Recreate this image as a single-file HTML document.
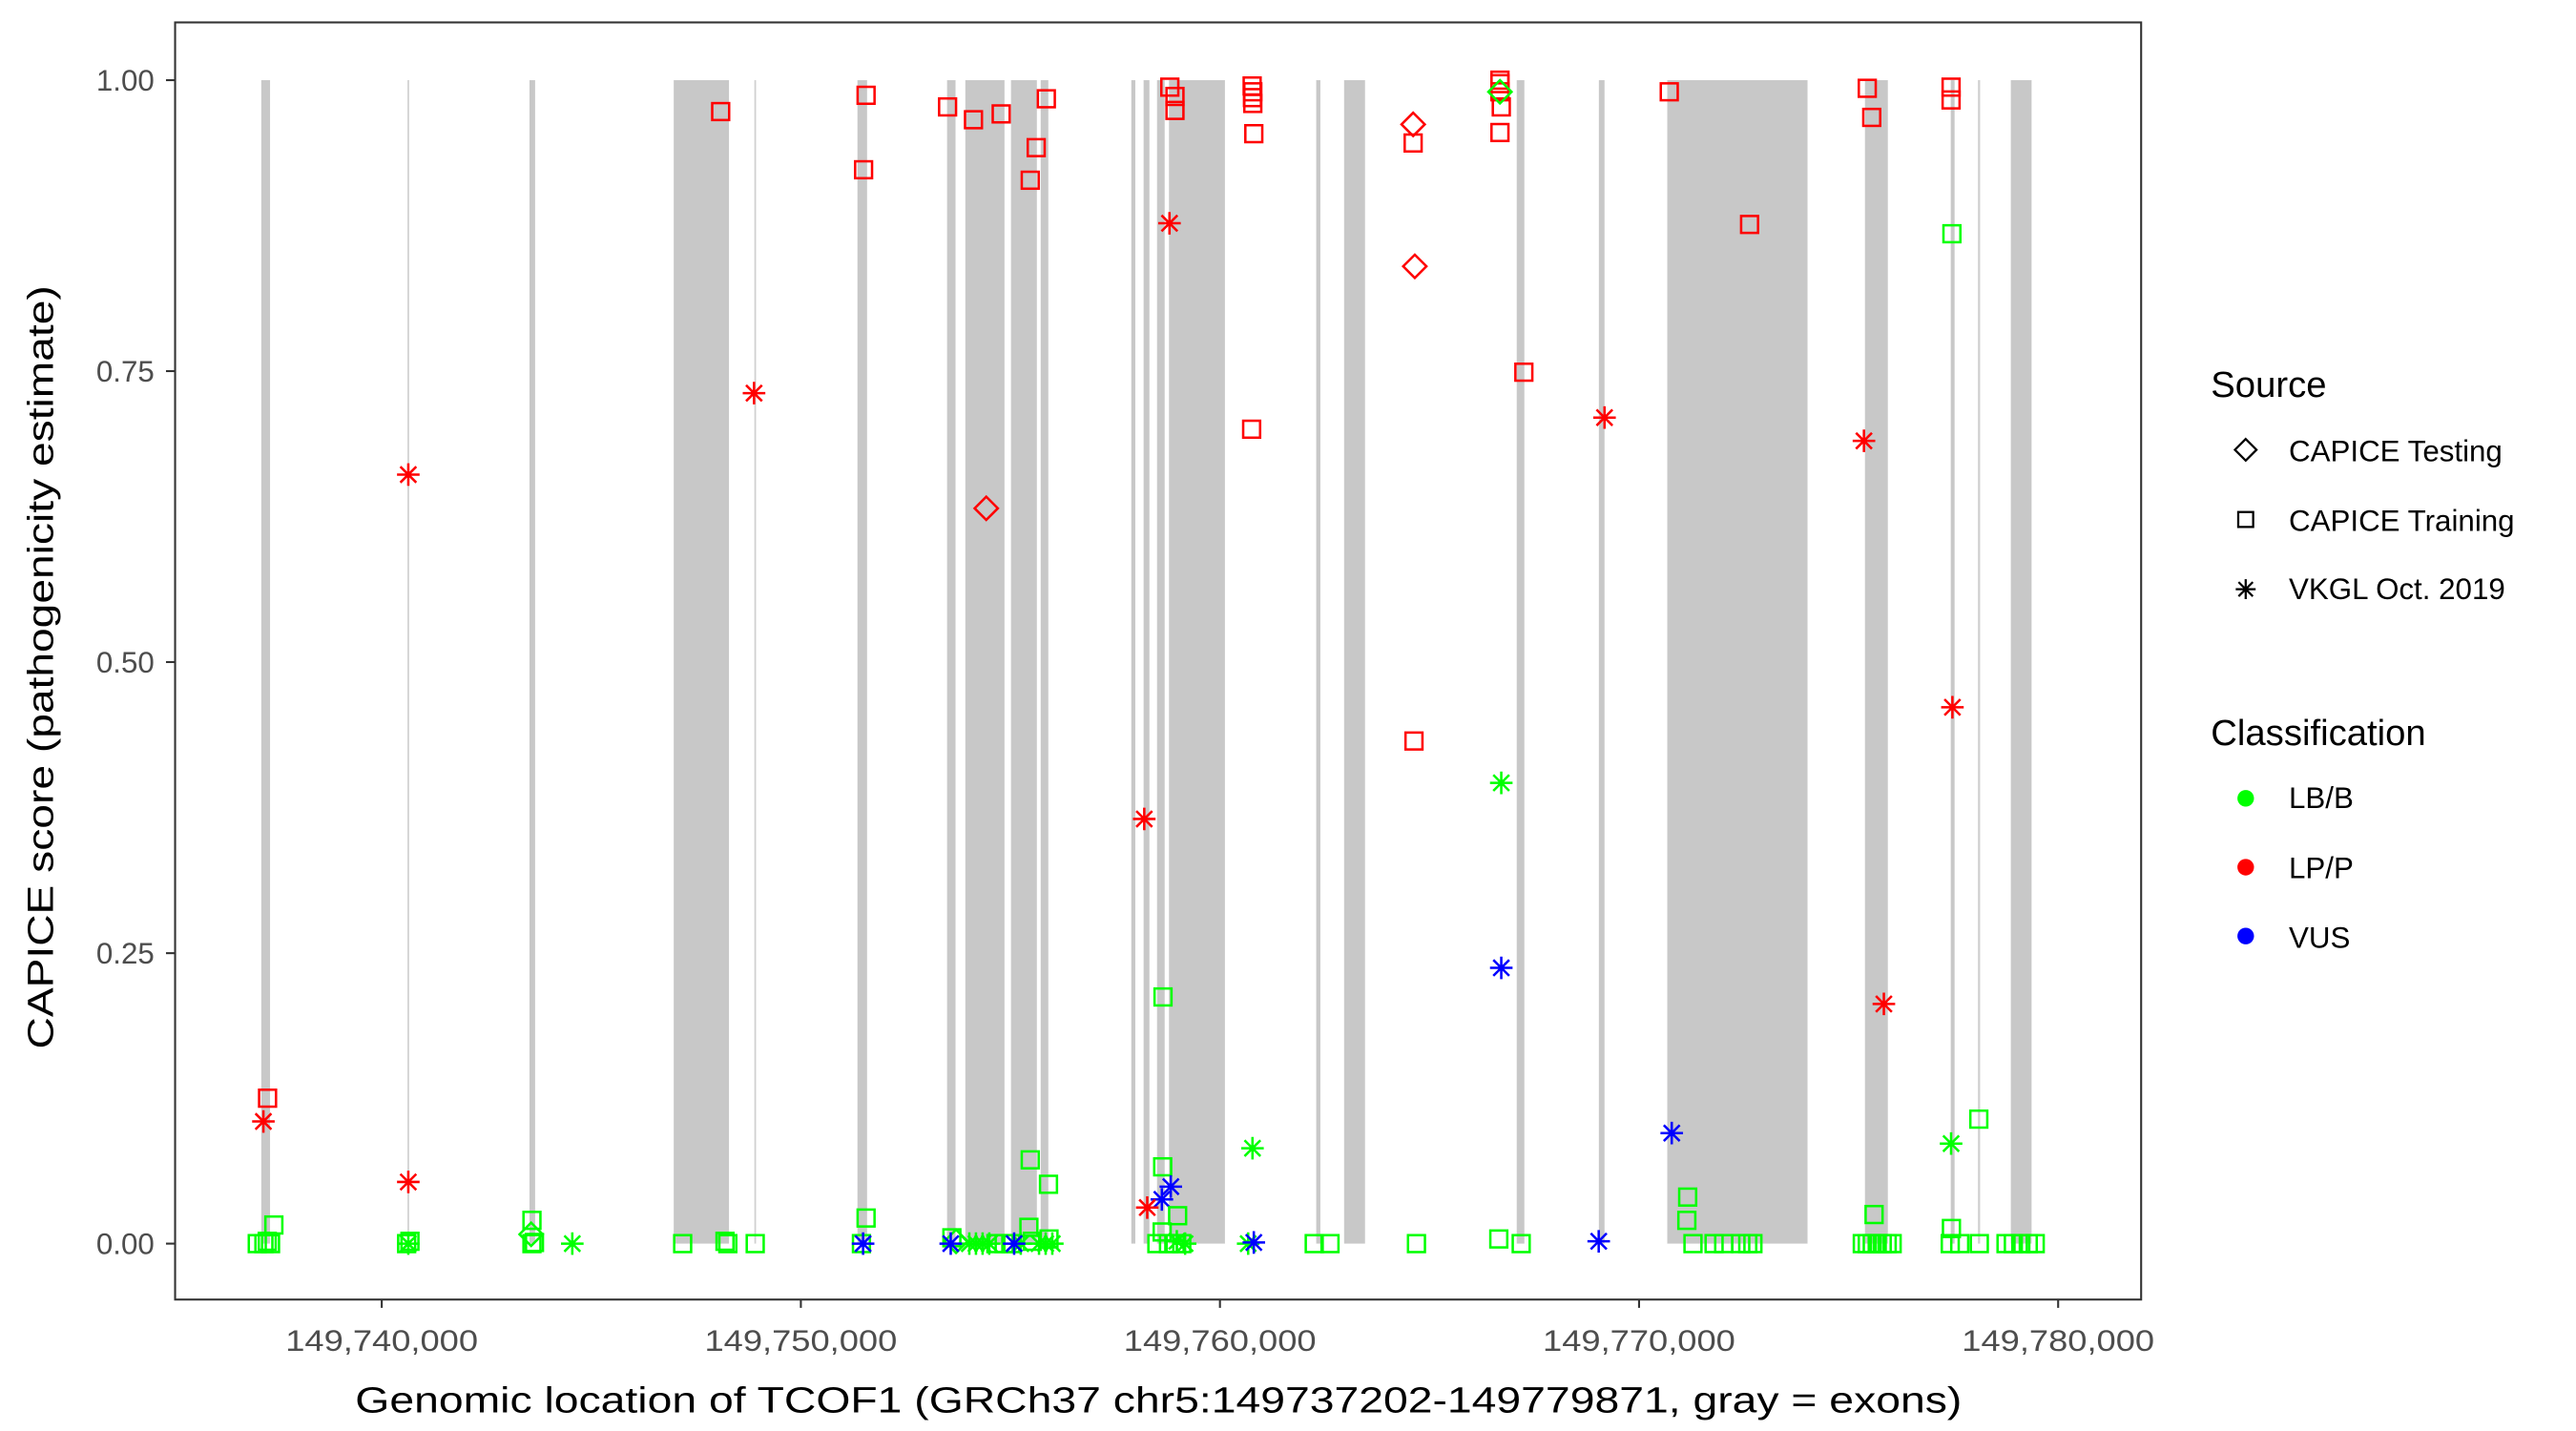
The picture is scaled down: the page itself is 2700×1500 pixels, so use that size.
<!DOCTYPE html>
<html><head><meta charset="utf-8">
<style>
html,body{margin:0;padding:0;background:#fff;}
svg{display:block;}
text{font-family:"Liberation Sans",Arial,sans-serif;}
</style></head>
<body>
<svg id="c" width="2700" height="1500" viewBox="0 0 1552 862.2" preserveAspectRatio="none" xmlns="http://www.w3.org/2000/svg">
<rect x="0" y="0" width="1552" height="862.2" fill="#fff"/>
<g id="ex"></g>
<g id="pts"></g>
<rect x="105.5" y="13.5" width="1184.5" height="769.5" fill="none" stroke="#333" stroke-width="1.2"/>
<g stroke="#333" stroke-width="1.2">
<line x1="100" y1="48.3" x2="105" y2="48.3"/>
<line x1="100" y1="223.6" x2="105" y2="223.6"/>
<line x1="100" y1="398.9" x2="105" y2="398.9"/>
<line x1="100" y1="574.3" x2="105" y2="574.3"/>
<line x1="100" y1="749.3" x2="105" y2="749.3"/>
<line x1="230" y1="783" x2="230" y2="788"/>
<line x1="482.5" y1="783" x2="482.5" y2="788"/>
<line x1="735" y1="783" x2="735" y2="788"/>
<line x1="987.5" y1="783" x2="987.5" y2="788"/>
<line x1="1240" y1="783" x2="1240" y2="788"/>
</g>
<g fill="#4d4d4d" font-size="18" text-anchor="end">
<text x="93" y="54.5">1.00</text>
<text x="93" y="229.8">0.75</text>
<text x="93" y="405.1">0.50</text>
<text x="93" y="580.5">0.25</text>
<text x="93" y="755.5">0.00</text>
</g>
<g fill="#4d4d4d" font-size="18" text-anchor="middle">
<text x="230" y="814" textLength="116" lengthAdjust="spacingAndGlyphs">149,740,000</text>
<text x="482.5" y="814" textLength="116" lengthAdjust="spacingAndGlyphs">149,750,000</text>
<text x="735" y="814" textLength="116" lengthAdjust="spacingAndGlyphs">149,760,000</text>
<text x="987.5" y="814" textLength="116" lengthAdjust="spacingAndGlyphs">149,770,000</text>
<text x="1240" y="814" textLength="116" lengthAdjust="spacingAndGlyphs">149,780,000</text>
</g>
<text x="698" y="851" font-size="22" text-anchor="middle" textLength="968" lengthAdjust="spacingAndGlyphs">Genomic location of TCOF1 (GRCh37 chr5:149737202-149779871, gray = exons)</text>
<text transform="translate(32,402) rotate(-90)" font-size="22" text-anchor="middle" textLength="460" lengthAdjust="spacingAndGlyphs">CAPICE score (pathogenicity estimate)</text>
<g font-size="22">
<text x="1332" y="239">Source</text>
<text x="1332" y="449">Classification</text>
</g>
<g font-size="18">
<text x="1379" y="278">CAPICE Testing</text>
<text x="1379" y="320">CAPICE Training</text>
<text x="1379" y="361">VKGL Oct. 2019</text>
<text x="1379" y="487">LB/B</text>
<text x="1379" y="529">LP/P</text>
<text x="1379" y="571">VUS</text>
</g>
<g fill="none" stroke="#000" stroke-width="1.3">
<path d="M1353 264.5 L1359.5 271 L1353 277.5 L1346.5 271 Z"/>
<rect x="1348.5" y="308.5" width="9" height="9"/>
<path d="M1347 355 H1359 M1353 349 V361 M1348.7 350.7 L1357.3 359.3 M1348.7 359.3 L1357.3 350.7"/>
</g>
<circle cx="1353" cy="481" r="5" fill="#00ff00"/>
<circle cx="1353" cy="522.5" r="5" fill="#ff0000"/>
<circle cx="1353" cy="564" r="5" fill="#0000ff"/>
</svg>
<script>
var NS="http://www.w3.org/2000/svg";
function Y(s){return 749.3-701*s;}
var ex=[[157.4,162.7],[245.5,246.5],[319,322.4],[405.9,439.2],[454.5,455.5],[516.6,522.4],[570.6,575.7],[581.6,605.2],[609.1,624.7],[627,631.6],[681.6,684],[689,692.5],[697.1,701.7],[704.3,738],[793,795.5],[809.8,822.4],[913.8,918.4],[963.3,966.7],[1004.5,1089],[1123.6,1137.4],[1175.3,1177.6],[1191.7,1193],[1211.5,1224]];
var g=document.getElementById('ex');
ex.forEach(function(e){var r=document.createElementNS(NS,'rect');var w=Math.max(e[1]-e[0],1);
r.setAttribute('x',e[0]);r.setAttribute('y',Y(1));r.setAttribute('width',w);r.setAttribute('height',Y(0)-Y(1));
r.setAttribute('fill',w<1.6?'#d0d0d0':'#c8c8c8');g.appendChild(r);});
var C={g:'#00ff00',r:'#ff0000',b:'#0000ff'};
var P=[
[161.2,0.125,'s','r'],[158.7,0.105,'t','r'],[155,0,'s','g'],[159,0,'s','g'],[163,0,'s','g'],[165,0.016,'s','g'],[161,0.002,'s','g'],
[246,0.661,'t','r'],[246,0.053,'t','r'],[246,0,'t','g'],[245,0,'s','g'],[247,0.002,'s','g'],
[320.5,0.02,'s','g'],[320,0.008,'d','g'],[320.5,0,'s','g'],[322,0.001,'s','g'],[344.8,0,'t','g'],
[411.3,0,'s','g'],[436.8,0.002,'s','g'],[438.5,0,'s','g'],[455,0,'s','g'],
[434.2,0.973,'s','r'],[454.3,0.731,'t','r'],[521.8,0.987,'s','r'],[520.3,0.923,'s','r'],[521.8,0.022,'s','g'],[519,0,'s','g'],[520,0,'t','b'],
[570.9,0.977,'s','r'],[586.5,0.966,'s','r'],[603.2,0.971,'s','r'],[630.4,0.984,'s','r'],[624.3,0.942,'s','r'],[620.7,0.914,'s','r'],[594.2,0.632,'d','r'],
[620.7,0.072,'s','g'],[631.7,0.051,'s','g'],[619.9,0.014,'s','g'],
[573.5,0.005,'s','g'],[576,0.002,'d','g'],[584,0,'t','g'],[588,0,'t','g'],[592,0,'t','g'],[596,0,'t','g'],[600,0,'s','g'],[605,0,'s','g'],[609,0,'s','g'],
[622,0.002,'s','g'],[626,0,'t','g'],[630,0,'t','g'],[634,0,'t','g'],[632,0.004,'s','g'],[615,0,'t','g'],
[572.8,0,'t','b'],[611,0,'t','b'],
[704.8,0.994,'s','r'],[707.9,0.986,'s','r'],[707.9,0.974,'s','r'],[704.6,0.877,'t','r'],[689.4,0.365,'t','r'],
[700.7,0.212,'s','g'],[700.5,0.066,'s','g'],[705.4,0.049,'t','b'],[700,0.038,'t','b'],[691.2,0.031,'t','r'],[709.5,0.024,'s','g'],[700.2,0.01,'s','g'],
[697,0,'s','g'],[704,0,'s','g'],[708,0,'s','g'],[712,0,'s','g'],[709,0.002,'t','g'],[714,0,'t','g'],
[754.4,0.995,'s','r'],[754.8,0.99,'s','r'],[754.6,0.985,'s','r'],[754.8,0.98,'s','r'],[755.4,0.954,'s','r'],[754.1,0.7,'s','r'],[754.6,0.082,'t','g'],
[752,0,'t','g'],[755.4,0.001,'t','b'],[791.8,0,'s','g'],[801.3,0,'s','g'],
[851.4,0.962,'d','r'],[851.4,0.946,'s','r'],[852.4,0.84,'d','r'],[851.9,0.432,'s','r'],[853.4,0,'s','g'],
[903.7,1.0,'s','r'],[903.7,0.997,'s','r'],[903.7,0.99,'s','r'],[904.5,0.977,'s','r'],[903.7,0.955,'s','r'],[903.7,0.99,'d','g'],
[904.5,0.396,'t','g'],[904.5,0.237,'t','b'],[903,0.004,'s','g'],[918.1,0.749,'s','r'],[916.5,0,'s','g'],
[966.7,0.71,'t','r'],[1005.7,0.99,'s','r'],[963.2,0.002,'t','b'],[1007.2,0.095,'t','b'],[1016.8,0.04,'s','g'],[1016.3,0.02,'s','g'],
[1020,0,'s','g'],[1032.7,0,'s','g'],[1038.5,0,'s','g'],[1048.8,0,'s','g'],[1053,0,'s','g'],[1056.1,0,'s','g'],[1054.1,0.876,'s','r'],
[1125,0.993,'s','r'],[1127.7,0.968,'s','r'],[1123,0.69,'t','r'],[1135,0.206,'t','r'],[1129.1,0.025,'s','g'],
[1122,0,'s','g'],[1125,0,'s','g'],[1128,0,'s','g'],[1131,0,'s','g'],[1134,0,'s','g'],[1137,0,'s','g'],[1140,0,'s','g'],
[1175.5,0.994,'s','r'],[1175.5,0.983,'s','r'],[1176,0.868,'s','g'],[1176.3,0.461,'t','r'],[1175.5,0.086,'t','g'],[1192.2,0.107,'s','g'],[1175.7,0.013,'s','g'],
[1175,0,'s','g'],[1180.7,0,'s','g'],[1192.5,0,'s','g'],
[1208.6,0,'s','g'],[1213,0,'s','g'],[1217.5,0,'s','g'],[1222,0,'s','g'],[1226.2,0,'s','g']
];
var pg=document.getElementById('pts');
P.forEach(function(p){var x=p[0],y=Y(p[1]),c=C[p[3]],el;
if(p[2]=='s'){el=document.createElementNS(NS,'rect');el.setAttribute('x',x-5.1);el.setAttribute('y',y-5.1);el.setAttribute('width',10.2);el.setAttribute('height',10.2);}
else if(p[2]=='d'){el=document.createElementNS(NS,'path');el.setAttribute('d','M'+x+' '+(y-7)+' L'+(x+7)+' '+y+' L'+x+' '+(y+7)+' L'+(x-7)+' '+y+' Z');}
else {el=document.createElementNS(NS,'path');var r=6.8,q=4.8;el.setAttribute('d','M'+(x-r)+' '+y+' H'+(x+r)+' M'+x+' '+(y-r)+' V'+(y+r)+' M'+(x-q)+' '+(y-q)+' L'+(x+q)+' '+(y+q)+' M'+(x-q)+' '+(y+q)+' L'+(x+q)+' '+(y-q));}
el.setAttribute('fill','none');el.setAttribute('stroke',c);el.setAttribute('stroke-width',1.45);pg.appendChild(el);});
</script>
</body></html>
